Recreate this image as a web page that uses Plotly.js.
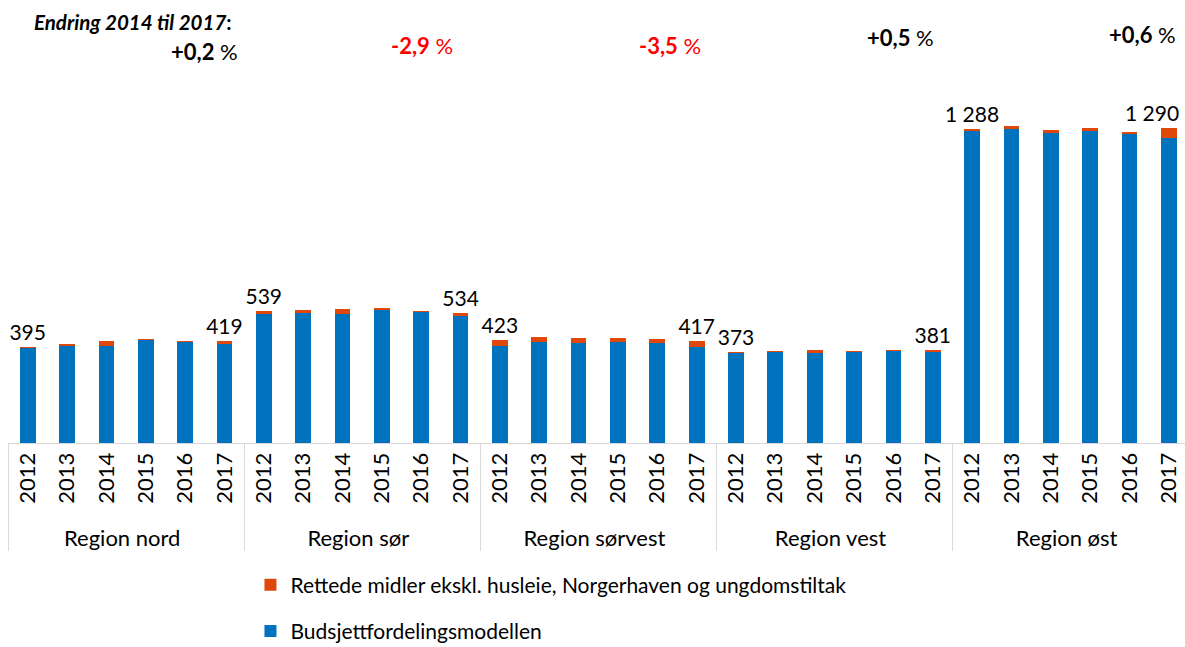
<!DOCTYPE html>
<html>
<head>
<meta charset="utf-8">
<script src="https://cdn.plot.ly/plotly-3.0.1.min.js"></script>
<style>html,body{margin:0;padding:0;background:#fff;overflow:hidden;}</style>
</head>
<body>
<div id="chart" style="width:1185px;height:700px;"></div>
<script>
const regions = ['Region nord', 'Region sør', 'Region sørvest', 'Region vest', 'Region øst'];
const years = ['2012', '2013', '2014', '2015', '2016', '2017'];

// Budsjettfordelingsmodellen (blue), per region, 2012-2017
const budsjettNord    = [391, 399, 399, 423, 414, 406];
const budsjettSor     = [529, 534, 529, 545, 536, 519];
const budsjettSorvest = [399, 414, 409, 414, 409, 394];
const budsjettVest    = [368, 373, 368, 374, 378, 372];
const budsjettOst     = [1277, 1287, 1270, 1279, 1265, 1251];

// Rettede midler (orange), per region, 2012-2017
const rettedeNord    = [4, 6, 19, 3, 5, 13];
const rettedeSor     = [10, 12, 21, 8, 6, 15];
const rettedeSorvest = [24, 20, 23, 15, 17, 23];
const rettedeVest    = [5, 5, 11, 4, 3, 9];
const rettedeOst     = [11, 13, 12, 12, 11, 39];

const changeLabels = ['+0,2', '-2,9', '-3,5', '+0,5', '+0,6'];
const changeColors = ['#000000', '#FF0000', '#FF0000', '#000000', '#000000'];

const budsjett = [budsjettNord, budsjettSor, budsjettSorvest, budsjettVest, budsjettOst];
const rettede = [rettedeNord, rettedeSor, rettedeSorvest, rettedeVest, rettedeOst];

const FONT = 'Lato, "DejaVu Sans", sans-serif';
const X_MIN = -0.5, X_MAX = 29.41;

const xReg = [], xYear = [], yBlue = [], yOrange = [], labels = [];
function fmt(v) {
  return String(v).replace(/\B(?=(\d{3})+(?!\d))/g, ' ');
}
let lastLabel = null;
const nBars = regions.length * years.length;
regions.forEach((r, i) => {
  years.forEach((y, j) => {
    xReg.push(r); xYear.push(y);
    yBlue.push(budsjett[i][j]);
    yOrange.push(rettede[i][j]);
    const tot = budsjett[i][j] + rettede[i][j];
    const idx = xReg.length - 1;
    const show = (j === 0 || j === years.length - 1);
    if (show && idx === nBars - 1) {
      // last label sits against the right edge: shifted left like the original
      lastLabel = {idx: idx, total: tot};
      labels.push('');
    } else {
      labels.push(show ? fmt(tot) : '');
    }
  });
});

const traces = [
  {
    type: 'bar', name: 'Budsjettfordelingsmodellen',
    x: [xReg, xYear], y: yBlue,
    marker: {color: '#0072BE'},
    legendgroup: 'b', legendrank: 2, hoverinfo: 'y'
  },
  {
    type: 'bar', name: 'Rettede midler ekskl. husleie, Norgerhaven og ungdomstiltak',
    x: [xReg, xYear], y: yOrange,
    marker: {color: '#E0470B'},
    text: labels, textposition: 'outside', cliponaxis: false, constraintext: 'none',
    textfont: {size: 21, color: '#000', family: FONT},
    legendgroup: 'o', legendrank: 1, hoverinfo: 'y'
  }
];

// top annotations (pixel-derived paper coords)
const annX = [0.1968, 0.3515, 0.5622, 0.7586, 0.9643];
const annY = [0.883, 0.898, 0.898, 0.916, 0.923];
const annAnchor = ['right', 'center', 'center', 'center', 'center'];
const annotations = [{
  xref: 'paper', yref: 'paper', x: 0.0208, y: 0.950, xanchor: 'left', yanchor: 'middle',
  text: '<b><i>Endring 2014 til 2017</i>:</b>', showarrow: false,
  font: {size: 20.5, color: '#000', family: FONT}
}];
changeLabels.forEach((c, i) => {
  annotations.push({
    xref: 'paper', yref: 'paper', x: annX[i], y: annY[i], xanchor: annAnchor[i], yanchor: 'middle',
    text: '<b>' + c + '</b> %', showarrow: false,
    font: {size: 22, color: changeColors[i], family: FONT}
  });
});
if (lastLabel) {
  annotations.push({
    xref: 'paper', yref: 'y',
    x: (lastLabel.idx - X_MIN) / (X_MAX - X_MIN), y: lastLabel.total,
    xanchor: 'right', yanchor: 'bottom', xshift: 12, yshift: 1,
    text: fmt(lastLabel.total), showarrow: false,
    font: {size: 21, color: '#000', family: FONT}
  });
}

const layout = {
  width: 1185, height: 700, autosize: false,
  margin: {l: 8, r: 0, t: 0, b: 257},
  paper_bgcolor: '#fff', plot_bgcolor: '#fff',
  font: {family: FONT, size: 20, color: '#000'},
  barmode: 'stack', bargap: 0.6,
  showlegend: true,
  legend: {
    x: 0.206, y: -0.2745, xanchor: 'left', yanchor: 'top',
    traceorder: 'grouped', tracegroupgap: 16,
    font: {size: 21, color: '#000', family: FONT},
    bgcolor: 'rgba(0,0,0,0)'
  },
  xaxis: {
    type: 'multicategory',
    range: [X_MIN, X_MAX],
    tickangle: -90,
    showline: true, linecolor: '#D9D9D9', linewidth: 1,
    showdividers: true, dividercolor: '#D9D9D9', dividerwidth: 1,
    ticks: '', showgrid: false, zeroline: false,
    tickfont: {size: 22, color: '#000', family: FONT}
  },
  yaxis: {
    range: [0, 1815], visible: false, showgrid: false, zeroline: false, fixedrange: true
  },
  annotations: annotations
};

Plotly.newPlot('chart', traces, layout, {displayModeBar: false, staticPlot: true});
</script>
</body>
</html>
